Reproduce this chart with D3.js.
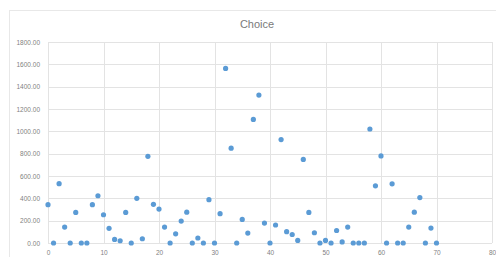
<!DOCTYPE html>
<html>
<head>
<meta charset="UTF-8">
<title>Choice</title>
<style>
    body { margin: 0; background: #fff; }
    #grafico { display: block; }
    .grade line { stroke: #e3e3e3; stroke-width: 1; }
    .eixo text { fill: #7f7f7f; font-family: "Liberation Sans", Arial, sans-serif; font-size: 6.5px; }
    .titulo { fill: #7a7a7a; font-family: "Liberation Sans", Arial, sans-serif; font-size: 11px; text-anchor: middle; }
    .ponto { fill: #5b9bd5; }
</style>
<script src="https://d3js.org/d3.v7.min.js"></script>
<script>
    let xs = d3.range(0, 71);
    let valores = [343, 0, 531, 143, 0, 274, 0, 0, 343, 423,
                   253, 131, 32, 20, 274, 0, 400, 38, 776, 346,
                   304, 143, 0, 82, 196, 276, 0, 45, 0, 388,
                   0, 263, 1563, 849, 0, 211, 89, 1107, 1325, 178,
                   0, 161, 926, 101, 76, 23, 748, 274, 92, 0,
                   23, 0, 112, 10, 143, 0, 0, 0, 1021, 512,
                   780, 0, 530, 0, 0, 143, 276, 407, 0, 134,
                   0];
    let ticksX = [0, 10, 20, 30, 40, 50, 60, 70, 80];
    let ticksY = [0, 200, 400, 600, 800, 1000, 1200, 1400, 1600, 1800];

    onload = () => {
        let svg = d3.select('#grafico');

        // borda do grafico
        svg.append('rect')
            .attr('x', 9.5).attr('y', 10.5)
            .attr('width', 490).attr('height', 250)
            .attr('fill', 'none').attr('stroke', '#e8e8e8');

        svg.append('text').classed('titulo', true)
            .attr('x', 257).attr('y', 28)
            .text('Choice');

        let fnX = d3.scaleLinear().domain([0, 80]).range([48, 492]);
        let fnY = d3.scaleLinear().domain([0, 1800]).range([243, 42]);

        let grade = svg.append('g').classed('grade', true);
        grade.selectAll('.gy').data(ticksY).enter().append('line')
            .attr('x1', fnX(0)).attr('x2', fnX(80))
            .attr('y1', d => Math.round(fnY(d)) + 0.5)
            .attr('y2', d => Math.round(fnY(d)) + 0.5);
        grade.selectAll('.gx').data(ticksX).enter().append('line')
            .attr('y1', fnY(0)).attr('y2', fnY(1800))
            .attr('x1', d => Math.round(fnX(d)) + 0.5)
            .attr('x2', d => Math.round(fnX(d)) + 0.5);

        let eixoY = d3.axisLeft(fnY).tickValues(ticksY)
            .tickFormat(d3.format('.2f')).tickSize(0).tickPadding(8);
        svg.append('g').classed('eixo', true)
            .attr('transform', `translate(${fnX(0)},0)`)
            .call(eixoY)
            .call(g => g.select('.domain').remove());

        let eixoX = d3.axisBottom(fnX).tickValues(ticksX)
            .tickFormat(d3.format('d')).tickSize(0).tickPadding(7);
        svg.append('g').classed('eixo', true)
            .attr('transform', `translate(0,${fnY(0)})`)
            .call(eixoX)
            .call(g => g.select('.domain').remove());

        svg.selectAll('.ponto')
            .data(valores)
            .enter()
            .append('circle')
            .classed('ponto', true)
            .attr('cx', (d, i) => fnX(xs[i]))
            .attr('cy', d => fnY(d))
            .attr('r', 2.6);
    };
</script>
</head>
<body>
    <svg id="grafico" width="496" height="257"></svg>
</body>
</html>
